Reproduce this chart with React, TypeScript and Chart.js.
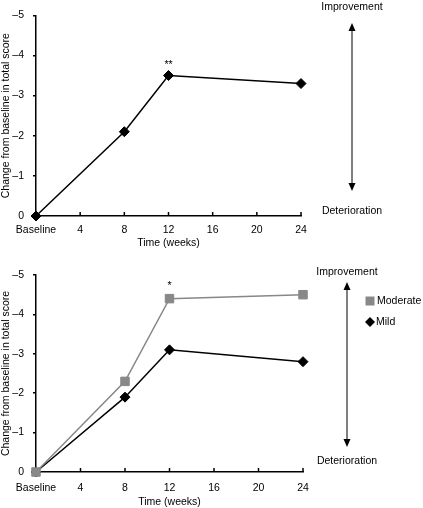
import { useEffect, useRef } from 'react';
import { Chart, registerables } from 'chart.js';

Chart.register(...registerables);

// ---- data ----
const weeks = [0, 8, 12, 24];
const xTickLabels = ['Baseline', '4', '8', '12', '16', '20', '24'];
const topValues = [0, -2.1, -3.5, -3.3];
const moderateValues = [0, -2.3, -4.4, -4.5];
const mildValues = [0, -1.9, -3.1, -2.8];
const seriesLabels = ['Moderate', 'Mild'];
const topMarks = ['', '', '**', ''];
const bottomMarks = ['', '', '*', ''];
const yTitle = 'Change from baseline in total score';
const xTitle = 'Time (weeks)';
const improveText = 'Improvement';
const deteriorText = 'Deterioration';

const FONT = '"Liberation Sans", Arial, Helvetica, sans-serif';
const FS = 10.5;
const GRAY = '#888888';

type Panel = {
  datasets: any[];
  marks: string[];
  marksDataset: number;
  markOffset: number;
  padTop: number;
  padRight: number;
  xHeight: number;
  xLabelPad: number;
  xTitlePad: number;
  arrowX: number;
  tipTop: number;
  tipBottom: number;
  improveY: number;
  deteriorY: number;
  legend?: { x: number; y: number; gap: number };
};

function pts(vals: number[]) {
  return weeks.map((w, i) => ({ x: w, y: vals[i] }));
}

function makeDecor(p: Panel) {
  return {
    id: 'decor',
    beforeDatasetsDraw(chart: any) {
      const { ctx, chartArea, scales } = chart;
      const xs = scales.x;
      ctx.save();
      ctx.strokeStyle = '#000';
      ctx.lineWidth = 1.5;
      xs.ticks.forEach((t: any) => {
        const px = xs.getPixelForValue(t.value);
        ctx.beginPath();
        ctx.moveTo(px, chartArea.bottom);
        ctx.lineTo(px, chartArea.bottom - 4);
        ctx.stroke();
      });
      ctx.restore();
    },
    afterDraw(chart: any) {
      const { ctx } = chart;
      ctx.save();
      // arrow
      const x = p.arrowX;
      const hh = 8;
      const hw = 3.5;
      ctx.strokeStyle = '#000';
      ctx.fillStyle = '#000';
      ctx.lineWidth = 1;
      ctx.beginPath();
      ctx.moveTo(x, p.tipTop + hh);
      ctx.lineTo(x, p.tipBottom - hh);
      ctx.stroke();
      ctx.beginPath();
      ctx.moveTo(x, p.tipTop);
      ctx.lineTo(x - hw, p.tipTop + hh);
      ctx.lineTo(x + hw, p.tipTop + hh);
      ctx.closePath();
      ctx.fill();
      ctx.beginPath();
      ctx.moveTo(x, p.tipBottom);
      ctx.lineTo(x - hw, p.tipBottom - hh);
      ctx.lineTo(x + hw, p.tipBottom - hh);
      ctx.closePath();
      ctx.fill();
      // texts
      ctx.font = `${FS}px ${FONT}`;
      ctx.textAlign = 'center';
      ctx.textBaseline = 'middle';
      ctx.fillText(improveText, x, p.improveY);
      ctx.fillText(deteriorText, x, p.deteriorY);
      // significance marks
      const meta = chart.getDatasetMeta(p.marksDataset);
      ctx.textBaseline = 'alphabetic';
      p.marks.forEach((m, i) => {
        if (!m) return;
        const el = meta.data[i];
        ctx.fillText(m, el.x, el.y - p.markOffset);
      });
      // legend
      if (p.legend) {
        const L = p.legend;
        ctx.textAlign = 'left';
        ctx.textBaseline = 'middle';
        chart.data.datasets.forEach((ds: any, k: number) => {
          const cy = L.y + k * L.gap;
          ctx.fillStyle = ds.backgroundColor;
          ctx.beginPath();
          if (ds.pointStyle === 'rect') {
            ctx.rect(L.x - 4.5, cy - 4.5, 9, 9);
          } else {
            ctx.moveTo(L.x - 5, cy);
            ctx.lineTo(L.x, cy - 5);
            ctx.lineTo(L.x + 5, cy);
            ctx.lineTo(L.x, cy + 5);
            ctx.closePath();
          }
          ctx.fill();
          ctx.fillStyle = '#000';
          ctx.fillText(ds.label, L.x + (ds.pointStyle === 'rect' ? 7 : 6), cy);
        });
      }
      ctx.restore();
    },
  };
}

function PanelChart({ p }: { p: Panel }) {
  const ref = useRef<HTMLCanvasElement>(null);
  useEffect(() => {
    if (!ref.current) return;
    const chart = new Chart(ref.current, {
      type: 'line',
      data: { datasets: p.datasets },
      options: {
        animation: false,
        responsive: false,
        devicePixelRatio: 1,
        layout: { padding: { left: 0, top: p.padTop, right: p.padRight, bottom: 0 } },
        plugins: { legend: { display: false }, tooltip: { enabled: false } },
        scales: {
          x: {
            type: 'linear',
            min: 0,
            max: 24,
            afterFit: (s: any) => {
              s.height = p.xHeight;
            },
            grid: { display: false, drawTicks: false },
            border: { display: true, color: '#000', width: 1.5 },
            ticks: {
              stepSize: 4,
              autoSkip: false,
              maxRotation: 0,
              padding: p.xLabelPad,
              color: '#000',
              font: { family: FONT, size: FS },
              callback: (v: any) => xTickLabels[Math.round(Number(v) / 4)] ?? '',
            },
            title: {
              display: true,
              text: xTitle,
              color: '#000',
              font: { family: FONT, size: FS },
              padding: { top: 0, bottom: p.xTitlePad },
            },
          },
          y: {
            type: 'linear',
            reverse: true,
            min: -5,
            max: 0,
            afterFit: (s: any) => {
              s.width = 36;
            },
            grid: {
              display: true,
              drawOnChartArea: false,
              drawTicks: true,
              tickLength: 3,
              color: '#000',
              lineWidth: 1.5,
            },
            border: { display: true, color: '#000', width: 1.5 },
            ticks: {
              stepSize: 1,
              padding: 9,
              color: '#000',
              font: { family: FONT, size: FS },
              callback: (v: any) => (Number(v) === 0 ? '0' : '\u2013' + Math.abs(Number(v))),
            },
            title: {
              display: true,
              text: yTitle,
              color: '#000',
              font: { family: FONT, size: FS },
              padding: { top: 0, bottom: 0 },
            },
          },
        },
      },
      plugins: [makeDecor(p)],
    } as any);
    return () => chart.destroy();
  }, [p]);
  return <canvas ref={ref} width={423} height={254} style={{ display: 'block' }} />;
}

const topPanel: Panel = {
  datasets: [
    {
      label: 'All',
      data: pts(topValues),
      borderColor: '#000',
      backgroundColor: '#000',
      borderWidth: 1.5,
      pointStyle: 'rectRot',
      pointRadius: 5,
      pointBorderWidth: 1,
      tension: 0,
      clip: false,
    },
  ],
  marks: topMarks,
  marksDataset: 0,
  markOffset: 8,
  padTop: 14,
  padRight: 122,
  xHeight: 38,
  xLabelPad: 8,
  xTitlePad: 5,
  arrowX: 352,
  tipTop: 23,
  tipBottom: 191,
  improveY: 7,
  deteriorY: 211,
};

const bottomPanel: Panel = {
  datasets: [
    {
      label: seriesLabels[0],
      data: pts(moderateValues),
      borderColor: GRAY,
      backgroundColor: GRAY,
      borderWidth: 1.5,
      pointStyle: 'rect',
      pointRadius: 6,
      pointBorderWidth: 1,
      tension: 0,
      clip: false,
    },
    {
      label: seriesLabels[1],
      data: pts(mildValues),
      borderColor: '#000',
      backgroundColor: '#000',
      borderWidth: 1.5,
      pointStyle: 'rectRot',
      pointRadius: 5,
      pointBorderWidth: 1,
      tension: 0,
      clip: false,
    },
  ],
  marks: bottomMarks,
  marksDataset: 0,
  markOffset: 10,
  padTop: 21,
  padRight: 120,
  xHeight: 36,
  xLabelPad: 10,
  xTitlePad: 0,
  arrowX: 347,
  tipTop: 28,
  tipBottom: 193,
  improveY: 18,
  deteriorY: 207,
  legend: { x: 370, y: 47, gap: 21 },
};

export default function App() {
  return (
    <div style={{ position: 'absolute', left: 0, top: 0, width: 423, height: 508, background: '#fff' }}>
      <PanelChart p={topPanel} />
      <PanelChart p={bottomPanel} />
    </div>
  );
}
